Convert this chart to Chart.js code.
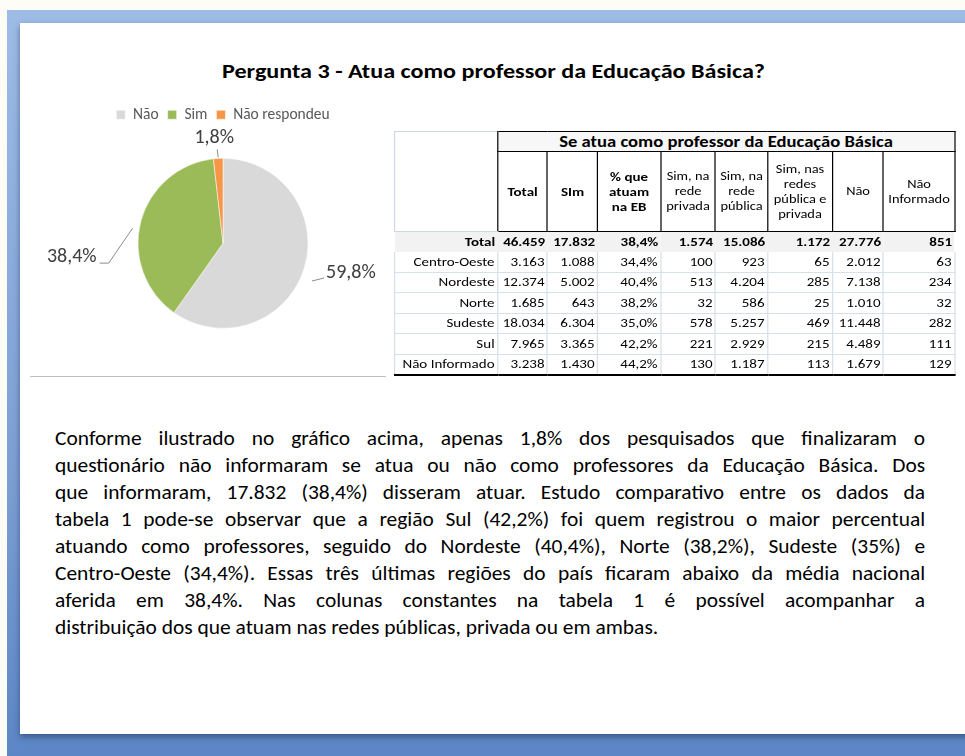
<!DOCTYPE html>
<html>
<head>
<meta charset="utf-8">
<script src="https://cdn.jsdelivr.net/npm/chart.js@4"></script>
<style>
  body { margin: 0; width: 965px; height: 756px; overflow: hidden; background: #fdfcf7; position: relative; font-family: Carlito, Lato, 'Open Sans', sans-serif; }
  #frame { position: absolute; left: 7px; top: 10px; width: 980px; height: 760px; background: linear-gradient(#9dbce6, #7d9fd4 60%, #5a85c4); }
  #page { position: absolute; left: 20px; top: 23px; width: 960px; height: 711px; background: #fff; box-shadow: 0 3px 6px rgba(30,50,90,0.55); }
  #title { position: absolute; left: 222px; top: 59px; white-space: nowrap; font-weight: bold; font-size: 20px; color: #000; transform-origin: left top; }
  #pieWrap { position: absolute; left: 48px; top: 96px; width: 350px; height: 262px; }
  #rule { position: absolute; left: 30px; top: 376px; width: 356px; height: 1px; background: #bfbfbf; }
  #tblWrap { position: absolute; left: 394px; top: 131px; transform: scaleX(1.2); transform-origin: left top; }
  table { border-collapse: collapse; table-layout: fixed; font-size: 12.5px; color: #000; }
  td { padding: 0 2px; overflow: hidden; white-space: nowrap; line-height: 14px; }
  .hd td { border: 1px solid #000; text-align: center; }
  .hd td.sub { white-space: pre-line; font-size: 12px; line-height: 15px; padding: 0 1px; }
  .hd td.corner { border: 1px solid #d0d8e4; border-right: 1px solid #000; }
  .tot td { background: #f2f2f2; font-weight: bold; text-align: right; height: 20px; }
  .row td { text-align: right; border-left: 1px solid #d6dfec; border-right: 1px solid #d6dfec; border-bottom: 1px solid #d6dfec; height: 19.5px; }
  .last td { border-bottom: 2px solid #000; }
  #text { position: absolute; left: 55px; top: 426px; width: 791px; font-size: 19.5px; color: #000; transform: scaleX(1.1); transform-origin: left top; }
  #text div { height: 27px; line-height: 24px; white-space: nowrap; text-align: justify; text-align-last: justify; }
  #text div.end { text-align-last: left; }
</style>
</head>
<body>
<div id="frame"></div>
<div id="page"></div>
<div id="title">Pergunta 3 - Atua como professor da Educação Básica?</div>
<div id="pieWrap"><canvas id="pie"></canvas></div>
<div id="rule"></div>
<div id="tblWrap"><table id="tbl"></table></div>
<div id="text"></div>

<script>
const sliceLabels = ['Não', 'Sim', 'Não respondeu']
const slicePct = [59.8, 38.4, 1.8]
const sliceColors = ['#d9d9d9', '#9bbb59', '#f79646']

const regions = ['Centro-Oeste', 'Nordeste', 'Norte', 'Sudeste', 'Sul', 'Não Informado']
const colTotal = ['3.163', '12.374', '1.685', '18.034', '7.965', '3.238']
const colSim = ['1.088', '5.002', '643', '6.304', '3.365', '1.430']
const colPct = ['34,4%', '40,4%', '38,2%', '35,0%', '42,2%', '44,2%']
const colPrivada = ['100', '513', '32', '578', '221', '130']
const colPublica = ['923', '4.204', '586', '5.257', '2.929', '1.187']
const colAmbas = ['65', '285', '25', '469', '215', '113']
const colNao = ['2.012', '7.138', '1.010', '11.448', '4.489', '1.679']
const colNaoInf = ['63', '234', '32', '282', '111', '129']
const totalRow = ['Total', '46.459', '17.832', '38,4%', '1.574', '15.086', '1.172', '27.776', '851']

const tableTitle = 'Se atua como professor da Educação Básica'
const headers = ['Total', 'SIm', '% que\natuam\nna EB', 'Sim, na\nrede\nprivada', 'Sim, na\nrede\npública', 'Sim, nas\nredes\npública e\nprivada', 'Não', 'Não\nInformado']
const colWidths = [103, 50, 50, 63, 55, 52, 65, 51, 71]

const paragraph = [
  'Conforme ilustrado no gráfico acima, apenas 1,8% dos pesquisados que finalizaram o',
  'questionário não informaram se atua ou não como professores da Educação Básica. Dos',
  'que informaram, 17.832 (38,4%) disseram atuar. Estudo comparativo entre os dados da',
  'tabela 1 pode-se observar que a região Sul (42,2%) foi quem registrou o maior percentual',
  'atuando como professores, seguido do Nordeste (40,4%), Norte (38,2%), Sudeste (35%) e',
  'Centro-Oeste (34,4%). Essas três últimas regiões do país ficaram abaixo da média nacional',
  'aferida em 38,4%. Nas colunas constantes na tabela 1 é possível acompanhar a',
  'distribuição dos que atuam nas redes públicas, privada ou em ambas.'
]

// title stretched to the width it has in the picture
const title = document.getElementById('title')
title.style.transform = `scaleX(${543 / title.getBoundingClientRect().width})`

// build the table (drawn at 1/1.2 width, then stretched)
const tbl = document.getElementById('tbl')
let html = '<colgroup>' + colWidths.map(w => `<col style="width:${w / 1.2}px">`).join('') + '</colgroup>'
html += `<tr class="hd"><td class="corner" rowspan="2"></td><td colspan="8" style="font-weight:bold;font-size:15.5px;height:19px;background:#f7f7f7">${tableTitle}</td></tr>`
html += '<tr class="hd">' + headers.map((h, i) => `<td class="sub" style="height:79px;${i < 3 ? 'font-weight:bold;font-size:12.5px;' : ''}">${h}</td>`).join('') + '</tr>'
html += '<tr class="tot">' + totalRow.map(v => `<td>${v}</td>`).join('') + '</tr>'
regions.forEach((r, i) => {
  const cells = [r, colTotal[i], colSim[i], colPct[i], colPrivada[i], colPublica[i], colAmbas[i], colNao[i], colNaoInf[i]]
  html += `<tr class="row${i === regions.length - 1 ? ' last' : ''}">` + cells.map(v => `<td>${v}</td>`).join('') + '</tr>'
})
tbl.innerHTML = html

// paragraph lines, justified one by one
const textBox = document.getElementById('text')
const boxW = 791
paragraph.forEach((line, i) => {
  const d = document.createElement('div')
  if (i === paragraph.length - 1) d.className = 'end'
  d.textContent = line
  textBox.appendChild(d)
})
textBox.querySelectorAll('div').forEach(d => {
  const span = document.createElement('span')
  span.textContent = d.textContent
  span.style.visibility = 'hidden'
  span.style.position = 'absolute'
  span.style.whiteSpace = 'nowrap'
  span.style.font = getComputedStyle(d).font
  document.body.appendChild(span)
  const natural = span.getBoundingClientRect().width
  span.remove()
  if (natural > boxW - 6 && !d.classList.contains('end')) {
    d.style.letterSpacing = ((boxW - 6 - natural) / d.textContent.length) + 'px'
  }
})

// labels with leader lines drawn next to each slice
const pieLabels = {
  id: 'pieLabels',
  afterDatasetsDraw (chart, args, opts) {
    const ctx = chart.ctx
    const arcs = chart.getDatasetMeta(0).data
    ctx.save()
    ctx.font = opts.font
    ctx.fillStyle = opts.color
    ctx.strokeStyle = '#8c8c8c'
    ctx.lineWidth = 1
    arcs.forEach((arc, i) => {
      const p = arc.getProps(['x', 'y', 'startAngle', 'endAngle', 'outerRadius'])
      const mid = (p.startAngle + p.endAngle) / 2
      const ax = p.x + Math.cos(mid) * p.outerRadius
      const ay = p.y + Math.sin(mid) * p.outerRadius
      const o = opts.place[i]
      const tx = ax + o.dx
      const ty = ay + o.dy
      const text = slicePct[i].toFixed(1).replace('.', ',') + '%'
      ctx.textBaseline = 'middle'
      ctx.beginPath()
      if (o.side === 'right') {
        ctx.textAlign = 'left'
        ctx.moveTo(ax + 8, ay + 12)
        ctx.lineTo(tx - 2, ty + 5)
      } else if (o.side === 'left') {
        ctx.textAlign = 'right'
        ctx.moveTo(ax - 8, ay + 6)
        ctx.lineTo(tx + 12, ty + 6)
        ctx.lineTo(tx + 3, ty + 6)
      } else {
        ctx.textAlign = 'center'
        ctx.moveTo(ax, ay - 1)
        ctx.lineTo(ax - 1, ty + 11)
      }
      ctx.stroke()
      ctx.fillText(text, tx, ty)
    })
    ctx.restore()
  }
}

new Chart(document.getElementById('pie').getContext('2d'), {
  type: 'pie',
  data: {
    labels: sliceLabels,
    datasets: [{
      data: slicePct,
      backgroundColor: sliceColors,
      borderColor: '#ffffff',
      borderWidth: 0.5,
      radius: 85
    }]
  },
  options: {
    responsive: true,
    maintainAspectRatio: false,
    animation: false,
    layout: { padding: { top: 2, bottom: 4, left: 0, right: 0 } },
    plugins: {
      legend: {
        display: true,
        position: 'top',
        labels: { boxWidth: 9, boxHeight: 9, padding: 9, color: '#595959', font: { family: 'Carlito, Lato, sans-serif', size: 15.5 } }
      },
      tooltip: { enabled: false },
      pieLabels: {
        font: '20px Carlito, Lato, sans-serif',
        color: '#404040',
        place: [
          { dx: 22, dy: 4, side: 'right' },
          { dx: -44, dy: 35, side: 'left' },
          { dx: -4, dy: -20, side: 'top' }
        ]
      }
    }
  },
  plugins: [pieLabels]
})
</script>
</body>
</html>
